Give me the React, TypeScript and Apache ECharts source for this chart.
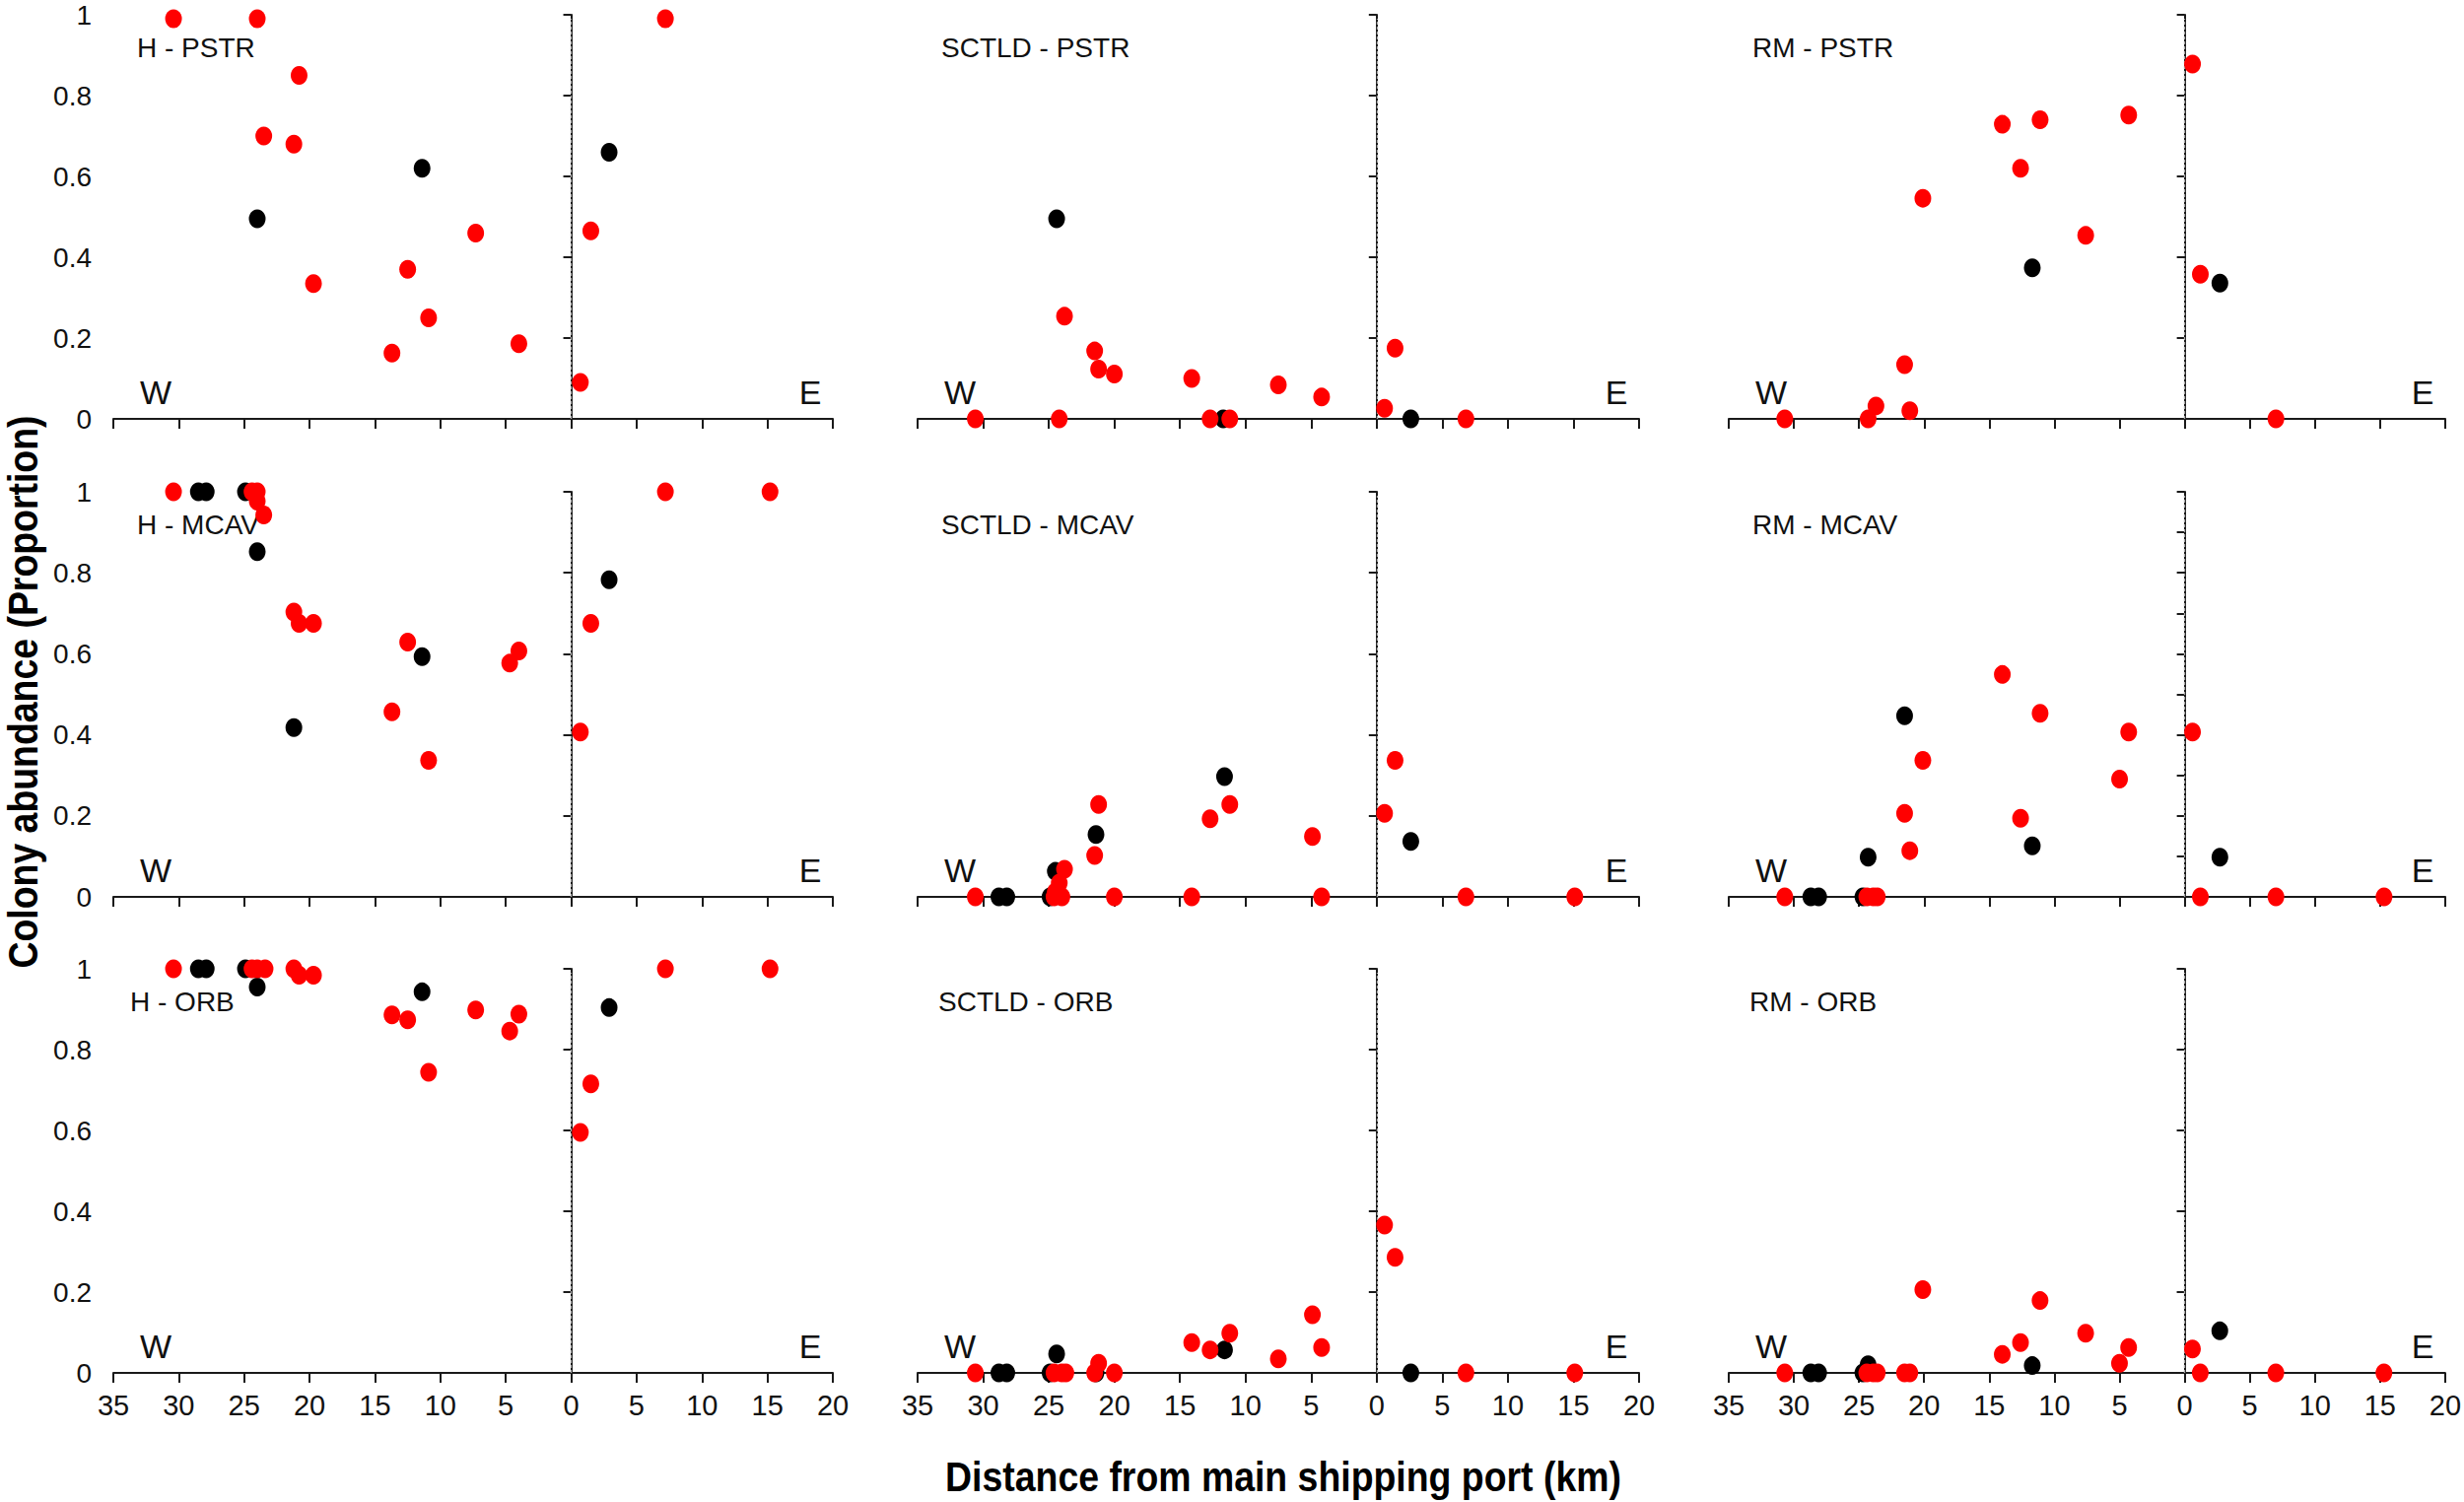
import React, { useEffect, useRef } from "react";
import * as echarts from "echarts";

type Pt = [number, number];

// x: distance from main shipping port (km), west negative, east positive
// y: colony abundance (proportion)
const panelTitles = [
  "H - PSTR", "SCTLD - PSTR", "RM - PSTR",
  "H - MCAV", "SCTLD - MCAV", "RM - MCAV",
  "H - ORB", "SCTLD - ORB", "RM - ORB",
];

const yIntervals = [0.2, 0.2, 0.2, 0.2, 0.2, 0.1, 0.2, 0.2, 0.2];

const hPstrRed: Pt[] = [[-30.4, 0.99], [-24.0, 0.99], [7.2, 0.99], [-20.8, 0.85], [-23.5, 0.70], [-21.2, 0.68], [-7.3, 0.46], [1.5, 0.465], [-12.5, 0.37], [-19.7, 0.335], [-10.9, 0.25], [-4.0, 0.186], [-13.7, 0.163], [0.7, 0.09]];
const hPstrBlack: Pt[] = [[-11.4, 0.62], [2.9, 0.66], [-24.0, 0.495]];

const sctldPstrRed: Pt[] = [[-23.8, 0.254], [-21.5, 0.168], [-21.2, 0.123], [-20.0, 0.111], [-14.1, 0.10], [-7.5, 0.084], [-4.2, 0.054], [0.6, 0.026], [1.4, 0.175], [-30.6, 0], [-24.2, 0], [-12.7, 0], [-11.2, 0], [6.8, 0]];
const sctldPstrBlack: Pt[] = [[-24.4, 0.495], [-11.7, 0], [2.6, 0]];

const rmPstrRed: Pt[] = [[0.6, 0.878], [-14.0, 0.729], [-11.1, 0.74], [-4.3, 0.752], [-12.6, 0.62], [-20.1, 0.546], [-7.6, 0.454], [1.2, 0.358], [-21.5, 0.134], [-23.7, 0.032], [-21.1, 0.02], [-30.7, 0], [-24.3, 0], [7.0, 0]];
const rmPstrBlack: Pt[] = [[-11.7, 0.374], [2.7, 0.336]];

const hMcavRed: Pt[] = [[-30.4, 1], [-24.4, 1], [-24.0, 1], [-24.0, 0.977], [-23.5, 0.943], [7.2, 1], [15.2, 1], [-21.2, 0.703], [-20.8, 0.675], [-19.7, 0.675], [1.5, 0.675], [-12.5, 0.629], [-4.0, 0.607], [-4.7, 0.577], [-13.7, 0.457], [0.7, 0.407], [-10.9, 0.337]];
const hMcavBlack: Pt[] = [[-28.5, 1], [-27.9, 1], [-24.9, 1], [-24.0, 0.852], [2.9, 0.783], [-11.4, 0.593], [-21.2, 0.418]];

const sctldMcavRed: Pt[] = [[1.4, 0.337], [-21.2, 0.228], [-11.2, 0.228], [-12.7, 0.193], [0.6, 0.206], [-4.9, 0.149], [-21.5, 0.102], [-23.8, 0.068], [-24.2, 0.034], [-24.5, 0.012], [-30.6, 0], [-24.6, 0], [-24.0, 0], [-20.0, 0], [-14.1, 0], [-4.2, 0], [6.8, 0], [15.1, 0]];
const sctldMcavBlack: Pt[] = [[-11.6, 0.297], [-21.4, 0.154], [2.6, 0.137], [-24.5, 0.063], [-28.8, 0], [-28.2, 0], [-24.9, 0]];

const rmMcavRed: Pt[] = [[-14.0, 0.549], [-11.1, 0.453], [-4.3, 0.407], [0.6, 0.407], [-20.1, 0.337], [-5.0, 0.291], [-21.5, 0.206], [-12.6, 0.194], [-21.1, 0.114], [-30.7, 0], [-24.4, 0], [-23.9, 0], [-23.6, 0], [1.2, 0], [7.0, 0], [15.3, 0]];
const rmMcavBlack: Pt[] = [[-21.5, 0.447], [-11.7, 0.126], [-24.3, 0.098], [2.7, 0.098], [-28.7, 0], [-28.1, 0], [-24.7, 0]];

const hOrbRed: Pt[] = [[-30.4, 1], [-24.4, 1], [-24.0, 1], [-23.4, 1], [-21.2, 1], [-20.8, 0.984], [-19.7, 0.984], [7.2, 1], [15.2, 1], [-13.7, 0.886], [-12.5, 0.874], [-7.3, 0.898], [-4.0, 0.888], [-4.7, 0.846], [-10.9, 0.744], [1.5, 0.715], [0.7, 0.595]];
const hOrbBlack: Pt[] = [[-28.5, 1], [-27.9, 1], [-24.9, 1], [-24.0, 0.955], [-11.4, 0.943], [2.9, 0.904]];

const sctldOrbRed: Pt[] = [[0.6, 0.366], [1.4, 0.286], [-4.9, 0.144], [-11.2, 0.098], [-14.1, 0.075], [-12.7, 0.057], [-4.2, 0.063], [-7.5, 0.035], [-21.2, 0.024], [-30.6, 0], [-24.6, 0], [-24.0, 0], [-23.7, 0], [-21.5, 0], [-20.0, 0], [6.8, 0], [15.1, 0]];
const sctldOrbBlack: Pt[] = [[-11.6, 0.057], [-24.4, 0.047], [-28.8, 0], [-28.2, 0], [-24.9, 0], [-21.4, 0], [2.6, 0]];

const rmOrbRed: Pt[] = [[-20.1, 0.206], [-11.1, 0.179], [-7.6, 0.098], [-12.6, 0.075], [-4.3, 0.063], [0.6, 0.059], [-14.0, 0.046], [-5.0, 0.024], [-30.7, 0], [-24.4, 0], [-23.9, 0], [-23.6, 0], [-21.5, 0], [-21.1, 0], [1.2, 0], [7.0, 0], [15.3, 0]];
const rmOrbBlack: Pt[] = [[2.7, 0.104], [-11.7, 0.018], [-24.3, 0.02], [-28.7, 0], [-28.1, 0], [-24.7, 0]];

const redSeries: Pt[][] = [hPstrRed, sctldPstrRed, rmPstrRed, hMcavRed, sctldMcavRed, rmMcavRed, hOrbRed, sctldOrbRed, rmOrbRed];
const blackSeries: Pt[][] = [hPstrBlack, sctldPstrBlack, rmPstrBlack, hMcavBlack, sctldMcavBlack, rmMcavBlack, hOrbBlack, sctldOrbBlack, rmOrbBlack];

const xMin = -35;
const xMax = 20;
const xInterval = 5;

const yTitle = "Colony abundance (Proportion)";
const xTitle = "Distance from main shipping port (km)";

// layout (px)
const colLeft = [115, 931, 1754];
const colWidth = [730, 732, 727];
const rowTop = [15, 499, 983];
const rowHeight = [410, 411, 410];
const labelOffset = [24, 24, 24, 24, 24, 24, 17, 21, 21];

const RED = "#ff0000";
const BLACK = "#000000";
const SANS = "'Liberation Sans', Arial, sans-serif";

export default function App() {
  const ref = useRef<HTMLDivElement>(null);

  useEffect(() => {
    if (!ref.current) return;
    const chart = echarts.init(ref.current, undefined, { renderer: "svg" });

    const grids: any[] = [];
    const xAxes: any[] = [];
    const yAxes: any[] = [];
    const series: any[] = [];
    const graphics: any[] = [];

    for (let i = 0; i < 9; i++) {
      const r = Math.floor(i / 3);
      const c = i % 3;
      const left = colLeft[c];
      const top = rowTop[r];
      const w = colWidth[c];
      const h = rowHeight[r];
      grids.push({ left, top, width: w, height: h, containLabel: false });
      xAxes.push({
        type: "value",
        gridIndex: i,
        min: xMin,
        max: xMax,
        interval: xInterval,
        axisLine: { show: true, onZero: false, lineStyle: { color: "#1a1a1a", width: 2 } },
        axisTick: { show: true, inside: false, length: 10, lineStyle: { color: "#1a1a1a", width: 2 } },
        splitLine: { show: false },
        axisLabel: {
          show: r === 2,
          margin: 18,
          fontSize: 29,
          fontFamily: SANS,
          color: "#111",
          formatter: (v: number) => String(Math.abs(v)),
        },
      });
      yAxes.push({
        type: "value",
        gridIndex: i,
        min: 0,
        max: 1,
        interval: yIntervals[i],
        axisLine: { show: true, lineStyle: { color: "#1a1a1a", width: 2 } },
        axisTick: { show: true, inside: false, length: 8, lineStyle: { color: "#1a1a1a", width: 2 } },
        splitLine: { show: false },
        axisLabel: {
          show: c === 0,
          margin: 22,
          fontSize: 28,
          fontFamily: SANS,
          color: "#111",
        },
      });
      series.push({
        type: "scatter",
        xAxisIndex: i,
        yAxisIndex: i,
        data: blackSeries[i],
        symbol: "circle",
        symbolSize: [17, 19],
        clip: false,
        itemStyle: { color: BLACK, opacity: 1 },
        z: 3,
        markLine: {
          silent: true,
          symbol: ["none", "none"],
          label: { show: false },
          lineStyle: { color: "#a8a8a8", type: [3, 2], width: 1.3 },
          data: [[{ coord: [0, 0] }, { coord: [0, 0.99] }]],
          z: 1,
        },
      });
      series.push({
        type: "scatter",
        xAxisIndex: i,
        yAxisIndex: i,
        data: redSeries[i],
        symbol: "circle",
        symbolSize: [17, 19],
        clip: false,
        itemStyle: { color: RED, opacity: 1 },
        z: 4,
      });
      graphics.push({
        type: "text",
        x: left + labelOffset[i],
        y: top + 33,
        style: {
          text: panelTitles[i],
          font: `28px ${SANS}`,
          fill: "#111",
          textAlign: "left",
          textVerticalAlign: "middle",
        },
      });
      graphics.push({
        type: "text",
        x: left + 43,
        y: top + h - 27,
        style: {
          text: "W",
          font: `34px ${SANS}`,
          fill: "#111",
          textAlign: "center",
          textVerticalAlign: "middle",
        },
      });
      graphics.push({
        type: "text",
        x: left + w - 23,
        y: top + h - 27,
        style: {
          text: "E",
          font: `34px ${SANS}`,
          fill: "#111",
          textAlign: "center",
          textVerticalAlign: "middle",
        },
      });
    }

    graphics.push({
      type: "text",
      x: 24,
      y: 702,
      rotation: Math.PI / 2,
      scaleX: 0.87,
      style: {
        text: yTitle,
        font: `bold 43px ${SANS}`,
        fill: "#000",
        textAlign: "center",
        textVerticalAlign: "middle",
      },
    });
    graphics.push({
      type: "text",
      x: 1302,
      y: 1499,
      scaleX: 0.87,
      style: {
        text: xTitle,
        font: `bold 43px ${SANS}`,
        fill: "#000",
        textAlign: "center",
        textVerticalAlign: "middle",
      },
    });

    chart.setOption({
      animation: false,
      backgroundColor: "#ffffff",
      grid: grids,
      xAxis: xAxes,
      yAxis: yAxes,
      series,
      graphic: graphics,
    });

    return () => chart.dispose();
  }, []);

  return (
    <div
      ref={ref}
      style={{ position: "fixed", left: 0, top: 0, width: 2500, height: 1524, background: "#fff" }}
    />
  );
}
